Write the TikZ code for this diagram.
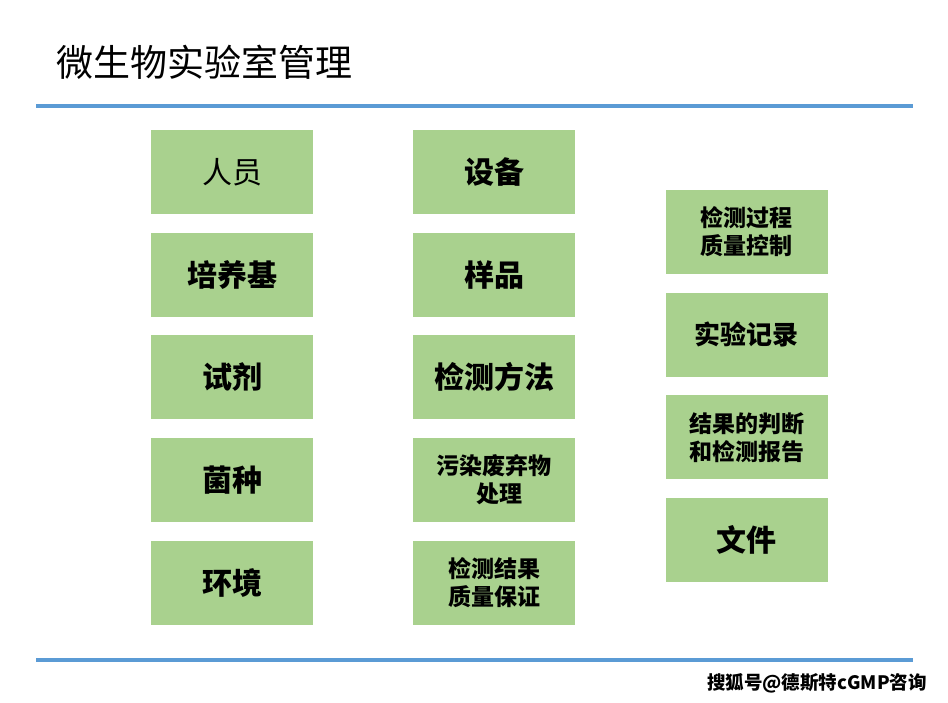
\documentclass[tikz,border=0pt]{standalone}
\usepackage{fontspec}
\newfontfamily\cjk{Noto Sans CJK SC}
\usetikzlibrary{positioning}

\definecolor{cellgreen}{RGB}{169,209,142}
\definecolor{ruleblue}{RGB}{91,155,213}

\begin{document}
\begin{tikzpicture}[
  x=1pt, y=-1pt,
  node distance=18.3pt,
  cell/.style={fill=cellgreen, minimum width=162pt, minimum height=84pt, inner sep=0pt, align=center,
    font=\cjk\bfseries\fontsize{30}{36}\selectfont},
  cellsmall/.style={cell, font=\cjk\bfseries\fontsize{23}{28}\selectfont},
  rule/.style={draw=ruleblue, line width=4pt}
]
\useasboundingbox (0,0) rectangle (948,703);

% title and rules
\node[anchor=west, inner sep=0pt, font=\cjk\fontsize{37}{44}\selectfont] (title) at (56,62) {微生物实验室管理};
\draw[rule] (36,106) -- (913,106);
\draw[rule] (36,660) -- (913,660);

% column 1
\node[cell, font=\cjk\fontsize{30}{36}\selectfont] (staff) at (232,172) {人员};
\node[cell, below=of staff] (medium) {培养基};
\node[cell, below=of medium] (reagent) {试剂};
\node[cell, below=of reagent] (strain) {菌种};
\node[cell, below=of strain] (envir) {环境};

% column 2
\node[cell] (equip) at (494,172) {设备};
\node[cell, below=of equip] (sample) {样品};
\node[cell, below=of sample] (method) {检测方法};
\node[cellsmall, below=of method] (waste) {污染废弃物\\\hspace{0.5em}处理};
\node[cellsmall, below=of waste] (assure) {检测结果\\质量保证};

% column 3
\node[cellsmall] (control) at (746.5,232) {检测过程\\质量控制};
\node[cell, font=\cjk\bfseries\fontsize{26}{32}\selectfont, below=of control] (record) {实验记录};
\node[cellsmall, below=of record] (report) {结果的判断\\和检测报告};
\node[cell, below=of report] (docs) {文件};

% watermark
\node[anchor=east, inner sep=0pt, font=\cjk\bfseries\fontsize{18.5}{22}\selectfont] (mark) at (927,683) {搜狐号@德斯特cGMP咨询};

\end{tikzpicture}
\end{document}
